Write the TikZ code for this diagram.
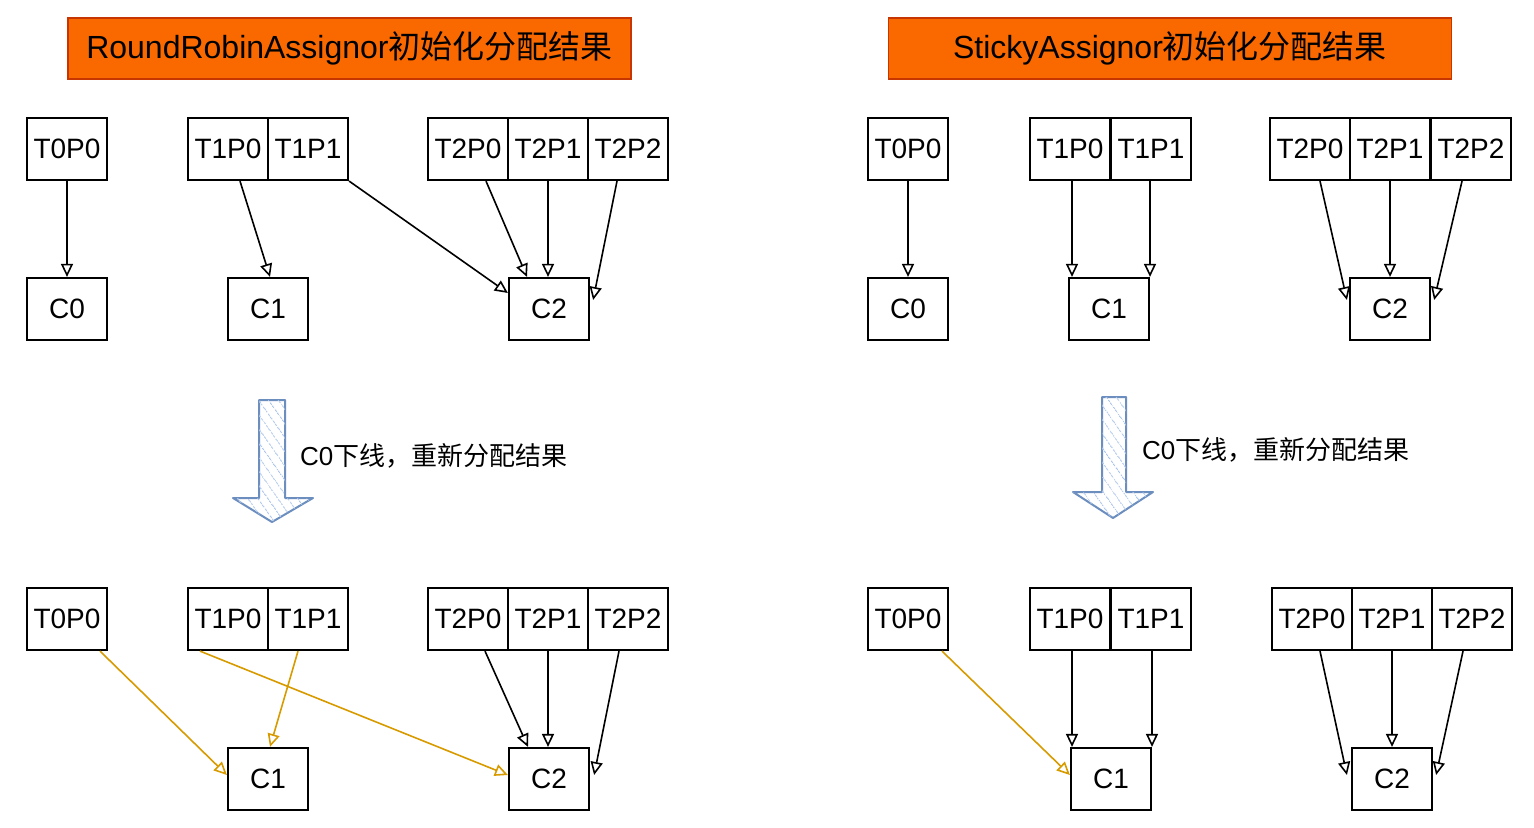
\documentclass[tikz,border=0pt]{standalone}
\usepackage{fontspec}
\setmainfont{Liberation Sans}
\newfontfamily\cjk{Noto Sans CJK SC}
\usetikzlibrary{calc,arrows.meta,patterns.meta}
\tikzset{>={Triangle[open,length=6.5pt,width=6pt]}}
\definecolor{titlefill}{HTML}{FA6800}
\definecolor{titleline}{HTML}{C73500}
\definecolor{downfill}{HTML}{DAE8FC}
\definecolor{downline}{HTML}{6C8EBF}
\definecolor{hatchcol}{HTML}{A9C4EB}
\definecolor{movecol}{HTML}{D79B00}

\begin{document}
\begin{tikzpicture}[x=0.5pt, y=-0.5pt,
    part/.style={draw, line width=1.1pt, minimum width=40pt, minimum height=31pt, inner sep=0pt, font=\fontsize{14}{14}\selectfont},
    headbox/.style={draw=titleline, fill=titlefill, line width=0.8pt, minimum width=281.5pt, minimum height=30.5pt, inner sep=0pt, font=\fontsize{16}{16}\selectfont},
    link/.style={->, line width=0.8pt},
    relink/.style={->, line width=0.8pt, draw=movecol},
    downarrow/.style={draw=downline, line width=1pt, line join=round, fill=white, postaction={pattern={Lines[angle=-55,distance=4pt,line width=0.5pt]}, pattern color=hatchcol}},
    note/.style={anchor=west, font=\fontsize{13}{13}\selectfont}]
      \useasboundingbox (0,0) rectangle (1534,828);
      % titles
      \node[headbox] (rrTitle) at (349.5,48.5) {RoundRobinAssignor{\cjk 初始化分配结果}};
      \node[headbox] (stTitle) at (1170,48.5) {StickyAssignor{\cjk 初始化分配结果}};

      % RoundRobin, initial
      \node[part] (riT0P0) at (67,149) {T0P0};
      \node[part] (riT1P0) at (228,149) {T1P0};
      \node[part] (riT1P1) at (308,149) {T1P1};
      \node[part] (riT2P0) at (468,149) {T2P0};
      \node[part] (riT2P1) at (548,149) {T2P1};
      \node[part] (riT2P2) at (628,149) {T2P2};
      \node[part] (riC0) at (67,309) {C0};
      \node[part] (riC1) at (268,309) {C1};
      \node[part] (riC2) at (549,309) {C2};
      \draw[link] (riT0P0.south) -- (riC0.north);
      \draw[link] ($(riT1P0.south)+(12,0)$) -- ($(riC1.north)+(2,0)$);
      \draw[link] (riT1P1.south east) -- ($(riC2.west)+(0,-16)$);
      \draw[link] ($(riT2P0.south)+(18,0)$) -- ($(riC2.north)+(-22,0)$);
      \draw[link] (riT2P1.south) -- ($(riC2.north)+(-1,0)$);
      \draw[link] ($(riT2P2.south)+(-11,0)$) -- ($(riC2.east)+(3,-9)$);

      % C0 leaves
      \draw[downarrow] (259,400) -- (285,400) -- (285,498) -- (313,498) -- (272,522) -- (233,498) -- (259,498) -- cycle;
      \node[note] (rrNote) at (293,456) {C0{\cjk 下线，重新分配结果}};

      % RoundRobin, new
      \node[part] (rnT0P0) at (67,619) {T0P0};
      \node[part] (rnT1P0) at (228,619) {T1P0};
      \node[part] (rnT1P1) at (308,619) {T1P1};
      \node[part] (rnT2P0) at (468,619) {T2P0};
      \node[part] (rnT2P1) at (548,619) {T2P1};
      \node[part] (rnT2P2) at (628,619) {T2P2};
      \node[part] (rnC1) at (268,779) {C1};
      \node[part] (rnC2) at (549,779) {C2};
      \draw[relink] ($(rnT0P0.south)+(33,0)$) -- ($(rnC1.west)+(0,-4)$);
      \draw[relink] ($(rnT1P0.south)+(-28,0)$) -- ($(rnC2.west)+(0,-4)$);
      \draw[relink] ($(rnT1P1.south)+(-10,0)$) -- ($(rnC1.north)+(2,0)$);
      \draw[link] ($(rnT2P0.south)+(17,0)$) -- ($(rnC2.north)+(-21,0)$);
      \draw[link] (rnT2P1.south) -- ($(rnC2.north)+(-1,0)$);
      \draw[link] ($(rnT2P2.south)+(-9,0)$) -- ($(rnC2.east)+(4,-4)$);

      % Sticky, initial
      \node[part] (siT0P0) at (908,149) {T0P0};
      \node[part] (siT1P0) at (1070,149) {T1P0};
      \node[part] (siT1P1) at (1151,149) {T1P1};
      \node[part] (siT2P0) at (1310,149) {T2P0};
      \node[part] (siT2P1) at (1390,149) {T2P1};
      \node[part] (siT2P2) at (1471,149) {T2P2};
      \node[part] (siC0) at (908,309) {C0};
      \node[part] (siC1) at (1109,309) {C1};
      \node[part] (siC2) at (1390,309) {C2};
      \draw[link] (siT0P0.south) -- (siC0.north);
      \draw[link] ($(siT1P0.south)+(2,0)$) -- ($(siC1.north)+(-37,0)$);
      \draw[link] ($(siT1P1.south)+(-1,0)$) -- ($(siC1.north)+(41,0)$);
      \draw[link] ($(siT2P0.south)+(10,0)$) -- ($(siC2.west)+(-2,-9)$);
      \draw[link] (siT2P1.south) -- (siC2.north);
      \draw[link] ($(siT2P2.south)+(-9,0)$) -- ($(siC2.east)+(3,-9)$);

      % C0 leaves
      \draw[downarrow] (1102,397) -- (1126,397) -- (1126,492) -- (1153,492) -- (1113,518) -- (1073,492) -- (1102,492) -- cycle;
      \node[note] (stNote) at (1135,450) {C0{\cjk 下线，重新分配结果}};

      % Sticky, new
      \node[part] (snT0P0) at (908,619) {T0P0};
      \node[part] (snT1P0) at (1070,619) {T1P0};
      \node[part] (snT1P1) at (1151,619) {T1P1};
      \node[part] (snT2P0) at (1312,619) {T2P0};
      \node[part] (snT2P1) at (1392,619) {T2P1};
      \node[part] (snT2P2) at (1472,619) {T2P2};
      \node[part] (snC1) at (1111,779) {C1};
      \node[part] (snC2) at (1392,779) {C2};
      \draw[relink] ($(snT0P0.south)+(34,0)$) -- ($(snC1.west)+(0,-4)$);
      \draw[link] ($(snT1P0.south)+(2,0)$) -- ($(snC1.north)+(-39,0)$);
      \draw[link] ($(snT1P1.south)+(1,0)$) -- ($(snC1.north)+(41,0)$);
      \draw[link] ($(snT2P0.south)+(8,0)$) -- ($(snC2.west)+(-4,-4)$);
      \draw[link] (snT2P1.south) -- (snC2.north);
      \draw[link] ($(snT2P2.south)+(-9,0)$) -- ($(snC2.east)+(3,-4)$);
\end{tikzpicture}
\end{document}
